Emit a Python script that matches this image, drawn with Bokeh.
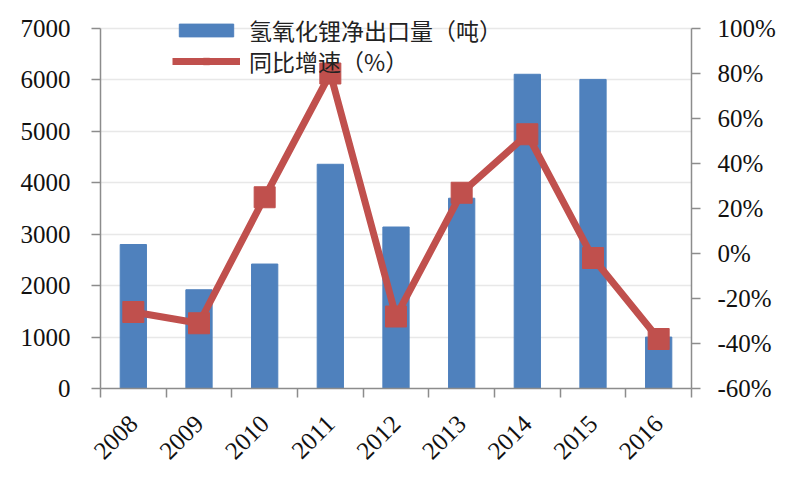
import math
from bokeh.plotting import figure
from bokeh.models import (Range1d, LinearAxis, FixedTicker, SingleIntervalTicker,
                          PrintfTickFormatter, CustomJSTickFormatter, Legend, LegendItem,
                          ColumnDataSource)
from bokeh.embed import file_html
from bokeh.resources import INLINE

# ---- data ----
years = ["2008", "2009", "2010", "2011", "2012", "2013", "2014", "2015", "2016"]
export_tons = [2800, 1920, 2420, 4360, 3140, 3700, 6110, 6010, 1000]
yoy_pct = [-26, -31, 25, 80, -28, 27, 53, -2, -38]
bar_label = "氢氧化锂净出口量（吨）"
line_label = "同比增速（%）"
tons_max, pct_min, pct_max = 7000, -60, 100

BLUE = "#4F81BD"
RED = "#C0504D"
AXIS = "#8C8C8C"
TICK_FONT = "Liberation Serif"

# frame: axes span 360px; frame extends above the axes' top so the
# legend (which sits partly above the top gridline) is not clipped
AX_H, EXTRA = 360, 22
frac = (AX_H + EXTRA) / AX_H

xs = [i + 0.5 for i in range(len(years))]
src = ColumnDataSource(dict(x=xs, tons=export_tons, pct=yoy_pct))

p = figure(width=784, height=484, x_range=Range1d(0, len(years)),
           y_range=Range1d(0, tons_max * frac), output_backend="svg",
           toolbar_location=None, min_border_left=100, min_border_right=93,
           min_border_top=28 - EXTRA, min_border_bottom=96)
p.extra_y_ranges = {"pct": Range1d(pct_min, pct_min + (pct_max - pct_min) * frac)}
p.outline_line_color = None
p.background_fill_color = "white"
p.border_fill_color = "white"

# grid
p.xgrid.grid_line_color = None
p.ygrid.grid_line_color = "#E8E8E8"
p.ygrid.grid_line_width = 1.5

# left axis
yl = p.yaxis[0]
yl.ticker = SingleIntervalTicker(interval=1000)
yl.bounds = (0, tons_max)
yl.minor_tick_line_color = None
yl.major_tick_in = 0
yl.major_tick_out = 9
yl.axis_line_color = AXIS
yl.major_tick_line_color = AXIS
yl.axis_line_width = 1.5
yl.major_tick_line_width = 1.5
yl.major_label_standoff = 21
yl.major_label_text_font = TICK_FONT
yl.major_label_text_font_size = "25px"
yl.major_label_text_color = "#111111"

# right axis
yr = LinearAxis(y_range_name="pct", ticker=SingleIntervalTicker(interval=20),
                formatter=PrintfTickFormatter(format="%d%%"), bounds=(pct_min, pct_max))
yr.minor_tick_line_color = None
yr.major_tick_in = 0
yr.major_tick_out = 9
yr.axis_line_color = AXIS
yr.major_tick_line_color = AXIS
yr.axis_line_width = 1.5
yr.major_tick_line_width = 1.5
yr.major_label_standoff = 17
yr.major_label_text_font = TICK_FONT
yr.major_label_text_font_size = "25px"
yr.major_label_text_color = "#111111"
p.add_layout(yr, "right")

# x axis
xa = p.xaxis[0]
xa.ticker = FixedTicker(ticks=xs, minor_ticks=list(range(len(years) + 1)))
xa.formatter = CustomJSTickFormatter(args=dict(years=years),
                                     code="return years[Math.floor(tick)];")
xa.major_tick_in = 0
xa.major_tick_out = 0
xa.minor_tick_in = 0
xa.minor_tick_out = 9
xa.minor_tick_line_color = AXIS
xa.minor_tick_line_width = 1.5
xa.axis_line_color = AXIS
xa.axis_line_width = 1.5
xa.major_label_orientation = math.pi / 4
xa.major_label_standoff = 22
xa.major_label_text_font = TICK_FONT
xa.major_label_text_font_size = "25px"
xa.major_label_text_color = "#111111"

# glyphs
bars = p.vbar(x="x", top="tons", width=0.4, source=src, fill_color=BLUE,
              line_color=BLUE)
line = p.line(x="x", y="pct", source=src, y_range_name="pct", line_color=RED,
              line_width=7)
marks = p.scatter(x="x", y="pct", source=src, y_range_name="pct", marker="square",
                  size=21, fill_color=RED, line_color=RED)


def make_legend(item, loc):
    lg = Legend(items=[item], location=loc)
    lg.padding = 0
    lg.margin = 0
    lg.spacing = 0
    lg.glyph_width = 68
    lg.glyph_height = 16
    lg.label_height = 24
    lg.label_standoff = 9
    lg.border_line_color = None
    lg.background_fill_alpha = 0
    lg.label_text_font = "Noto Sans CJK SC"
    lg.label_text_font_size = "23px"
    lg.label_text_color = "#222222"
    return lg


p.add_layout(make_legend(LegendItem(label=bar_label, renderers=[bars]), (72, 341)), "center")
p.add_layout(make_legend(LegendItem(label=line_label, renderers=[line, marks]), (72, 310)), "center")

open("out.html", "w").write(file_html(p, INLINE))
